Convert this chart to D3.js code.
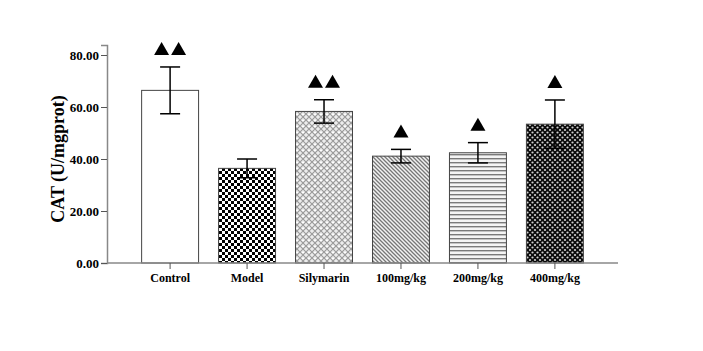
<!DOCTYPE html>
<html>
<head>
<meta charset="utf-8">
<script src="https://cdn.jsdelivr.net/npm/d3@7"></script>
<style>
  body { margin: 0; background: #fff; }
  .tick text { font-family: "Liberation Serif", "Times New Roman", serif; font-weight: bold; font-size: 13px; fill: #000; }
  .ylabel { font-family: "Liberation Serif", "Times New Roman", serif; font-weight: bold; font-size: 18px; }
</style>
</head>
<body>
<div id="chart"></div>
<script>
// data
var groups = ["Control", "Model", "Silymarin", "100mg/kg", "200mg/kg", "400mg/kg"];
var means = [66.4, 36.4, 58.3, 41.1, 42.4, 53.4];
var errs = [9.0, 3.6, 4.5, 2.6, 3.9, 9.3];
var marks = [2, 0, 2, 1, 1, 1];   // number of ▲ above each bar
var fills = ["#fff", "url(#pModel)", "url(#pSily)", "url(#pDiag)", "url(#pHoriz)", "url(#pDots)"];
var yTicks = [0, 20, 40, 60, 80];

var svgWidth = 703, svgHeight = 351;

var svg = d3.select("#chart").append("svg")
    .attr("width", svgWidth)
    .attr("height", svgHeight);

// patterns for the bars
var defs = svg.append("defs");

var p = defs.append("pattern").attr("id", "pModel").attr("patternUnits", "userSpaceOnUse")
    .attr("width", 6).attr("height", 6);
p.append("rect").attr("width", 6).attr("height", 6).attr("fill", "#fff");
p.append("rect").attr("width", 3).attr("height", 3).attr("fill", "#000");
p.append("rect").attr("x", 3).attr("y", 3).attr("width", 3).attr("height", 3).attr("fill", "#000");

p = defs.append("pattern").attr("id", "pSily").attr("patternUnits", "userSpaceOnUse")
    .attr("width", 6).attr("height", 6);
p.append("rect").attr("width", 6).attr("height", 6).attr("fill", "#ececec");
p.append("path").attr("d", "M0,0L6,6M6,0L0,6").attr("stroke", "#999").attr("stroke-width", 1.1);
p.append("rect").attr("x", 2).attr("y", 0).attr("width", 2).attr("height", 1).attr("fill", "#fff");

p = defs.append("pattern").attr("id", "pDiag").attr("patternUnits", "userSpaceOnUse")
    .attr("width", 4).attr("height", 4);
p.append("rect").attr("width", 4).attr("height", 4).attr("fill", "#f2f2f2");
p.append("path").attr("d", "M-1,-1L5,5M-1,3L1,5M3,-1L5,1").attr("stroke", "#777").attr("stroke-width", 1.3);

p = defs.append("pattern").attr("id", "pHoriz").attr("patternUnits", "userSpaceOnUse")
    .attr("width", 4).attr("height", 4);
p.append("rect").attr("width", 4).attr("height", 4).attr("fill", "#f4f4f4");
p.append("rect").attr("y", 2).attr("width", 4).attr("height", 1.4).attr("fill", "#7a7a7a");

p = defs.append("pattern").attr("id", "pDots").attr("patternUnits", "userSpaceOnUse")
    .attr("width", 5).attr("height", 5);
p.append("rect").attr("width", 5).attr("height", 5).attr("fill", "#0a0a0a");
[[2.5, 2.5], [0, 0], [5, 0], [0, 5], [5, 5]].forEach(function(c) {
    p.append("circle").attr("cx", c[0]).attr("cy", c[1]).attr("r", 1.1).attr("fill", "#d0d0d0");
});

var xScale = d3.scaleBand()
    .domain(groups)
    .range([107, 618])
    .paddingInner(0.26)
    .paddingOuter(0.45);

var yScale = d3.scaleLinear()
    .domain([0, 83.85])
    .range([263, 45]);

// bars
svg.selectAll(".bar")
    .data(groups)
    .enter()
    .append("rect")
    .attr("class", "bar")
    .attr("x", d => xScale(d))
    .attr("width", xScale.bandwidth())
    .attr("y", (d, i) => yScale(means[i]))
    .attr("height", (d, i) => yScale(0) - yScale(means[i]))
    .attr("fill", (d, i) => fills[i])
    .attr("stroke", "#444")
    .attr("stroke-width", 1);

// error bars
var cap = 10;
groups.forEach(function(g, i) {
    var cx = xScale(g) + xScale.bandwidth() / 2;
    var hi = yScale(means[i] + errs[i]);
    var lo = yScale(means[i] - errs[i]);
    svg.append("line").attr("x1", cx).attr("x2", cx).attr("y1", hi).attr("y2", lo)
        .attr("stroke", "#000").attr("stroke-width", 1.5);
    svg.append("line").attr("x1", cx - cap).attr("x2", cx + cap).attr("y1", hi).attr("y2", hi)
        .attr("stroke", "#000").attr("stroke-width", 1.5);
    svg.append("line").attr("x1", cx - cap).attr("x2", cx + cap).attr("y1", lo).attr("y2", lo)
        .attr("stroke", "#000").attr("stroke-width", 1.5);

    // triangles
    var n = marks[i];
    var base = hi - 12;
    for (var k = 0; k < n; k++) {
        var tx = cx + (k - (n - 1) / 2) * 17;
        svg.append("path")
            .attr("d", "M" + (tx - 7.5) + "," + base + "L" + (tx + 7.5) + "," + base + "L" + tx + "," + (base - 13) + "Z")
            .attr("fill", "#000");
    }
});

// axes
var yAxis = svg.append("g")
    .attr("transform", "translate(107,0)")
    .call(d3.axisLeft(yScale).tickValues(yTicks).tickFormat(d3.format(".2f")).tickSize(6).tickPadding(2));
yAxis.select(".domain").attr("stroke", "#888").attr("stroke-width", 1.5);
yAxis.selectAll(".tick line").attr("stroke", "#555");

var xAxis = svg.append("g")
    .attr("transform", "translate(0,263)")
    .call(d3.axisBottom(xScale).tickSize(6).tickPadding(4));
xAxis.select(".domain").attr("stroke", "#888").attr("stroke-width", 1.5).attr("d", "M107,0H618");
xAxis.selectAll(".tick line").attr("stroke", "#555");
xAxis.selectAll(".tick text").style("font-size", "12px");

svg.append("text")
    .attr("class", "ylabel")
    .attr("transform", "translate(64," + yScale(40) + ") rotate(-90)")
    .attr("text-anchor", "middle")
    .text("CAT (U/mgprot)");
</script>
</body>
</html>
